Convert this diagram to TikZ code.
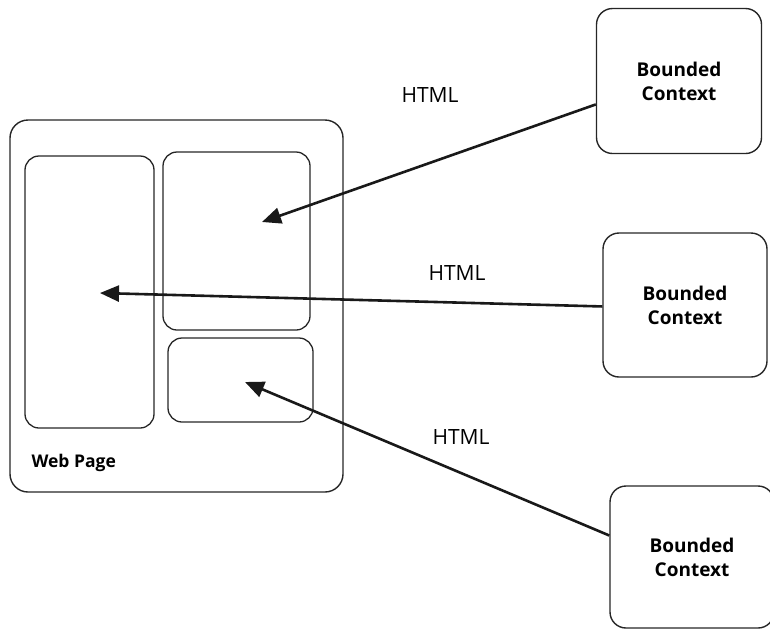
\documentclass[tikz,border=0pt]{standalone}
\usepackage{fontspec}
\setmainfont{Open Sans}
\usetikzlibrary{arrows.meta,calc}
\tikzset{
  frame/.style={draw=black!85, line width=1.4pt, rounded corners=18pt},
  panel/.style={draw=black!85, line width=1.3pt, rounded corners=14pt},
  ctxbox/.style={draw=black!85, line width=1.4pt, rounded corners=16pt,
    align=center, font=\fontsize{19}{24}\selectfont\bfseries},
  lbl/.style={font=\fontsize{21}{24}\selectfont},
  feed/.style={line width=2.6pt, black!90, -{Triangle[length=19pt,width=16pt]}}
}
\begin{document}
\begin{tikzpicture}[x=1pt,y=-1pt]
  \useasboundingbox (0,0) rectangle (770,630);
  % web page and its panels
  \draw[frame] (10,120) rectangle (343,492);
  \draw[panel] (25,156) rectangle (154,428);
  \draw[panel] (163,152) rectangle (310,330);
  \draw[panel] (168,338) rectangle (313,422);
  \node[anchor=west, font=\fontsize{17.5}{20}\selectfont\bfseries] (wp) at (28,463) {Web Page};
  % bounded contexts
  \node[ctxbox, minimum width=165pt, minimum height=145pt] (bc1) at (679,81) {Bounded\\Context};
  \node[ctxbox, minimum width=164pt, minimum height=144pt] (bc2) at (685,305) {Bounded\\Context};
  \node[ctxbox, minimum width=164pt, minimum height=142pt] (bc3) at (692,557) {Bounded\\Context};
  % arrow targets inside the panels
  \coordinate (t1) at (262,222);
  \coordinate (t2) at (100,293);
  \coordinate (t3) at (245,382);
  \coordinate (s1) at ($(bc1.north west)!0.66!(bc1.south west)$);
  \coordinate (s2) at ($(bc2.north west)!0.51!(bc2.south west)$);
  \coordinate (s3) at ($(bc3.north west)!0.35!(bc3.south west)$);
  \draw[feed] (s1) -- (t1);
  \draw[feed] (s2) -- (t2);
  \draw[feed] (s3) -- (t3);
  % labels
  \node[lbl] (h1) at (430,95) {HTML};
  \node[lbl] (h2) at (457,273) {HTML};
  \node[lbl] (h3) at (461,437) {HTML};
\end{tikzpicture}
\end{document}
